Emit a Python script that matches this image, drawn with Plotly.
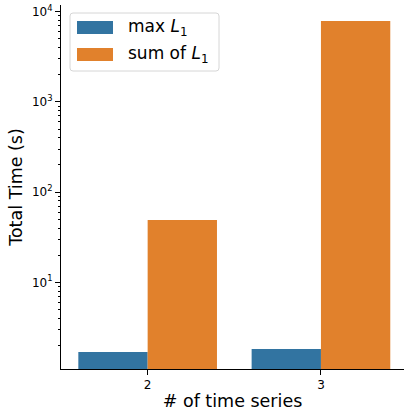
import plotly.graph_objects as go

# Number of time series (x categories)
categories = ["2", "3"]

# Total runtime in seconds for each strategy
series_names = ["max <i>L</i><sub>1</sub>", "sum of <i>L</i><sub>1</sub>"]
max_l1 = [1.69, 1.82]
sum_l1 = [49.0, 7890.0]
series_values = [max_l1, sum_l1]
colors = ["#3274a1", "#e1812c"]

# Log-axis decade labels
y_tickvals = [10, 100, 1000, 10000]
y_ticktext = ["10<sup>1</sup>", "10<sup>2</sup>", "10<sup>3</sup>", "10<sup>4</sup>"]

W, H = 404, 414
L, R, T, B = 61, 0, 5, 45
plot_w = W - L - R
plot_h = H - T - B

fig = go.Figure()
for name, vals, col in zip(series_names, series_values, colors):
    fig.add_trace(go.Bar(
        x=categories, y=vals, name=name, marker_color=col,
        marker_line_width=0, showlegend=False,
    ))

font = "DejaVu Sans, sans-serif"

# Hand-built legend in pixel units converted to paper coordinates
def px(x):
    return (x - L) / plot_w

def py(y):
    return (H - B - y) / plot_h

bx0, bx1, by0, by1, rr = 70, 219, 13, 71, 3
path = (
    f"M {px(bx0 + rr)} {py(by0)} L {px(bx1 - rr)} {py(by0)} "
    f"Q {px(bx1)} {py(by0)} {px(bx1)} {py(by0 + rr)} "
    f"L {px(bx1)} {py(by1 - rr)} Q {px(bx1)} {py(by1)} {px(bx1 - rr)} {py(by1)} "
    f"L {px(bx0 + rr)} {py(by1)} Q {px(bx0)} {py(by1)} {px(bx0)} {py(by1 - rr)} "
    f"L {px(bx0)} {py(by0 + rr)} Q {px(bx0)} {py(by0)} {px(bx0 + rr)} {py(by0)} Z"
)
shapes = [dict(type="path", xref="paper", yref="paper", path=path,
               fillcolor="rgba(255,255,255,0.8)", line=dict(color="#d6d6d6", width=1))]
annotations = []
for i, (name, col) in enumerate(zip(series_names, colors)):
    yc = 27.5 + i * 27
    shapes.append(dict(type="rect", xref="paper", yref="paper",
                       x0=px(77), x1=px(113), y0=py(yc - 6.5), y1=py(yc + 6.5),
                       fillcolor=col, line=dict(width=0)))
    annotations.append(dict(xref="paper", yref="paper", x=px(126), y=py(yc),
                            text=name, showarrow=False, xanchor="left", yanchor="middle",
                            font=dict(family=font, size=17, color="black")))

fig.update_layout(
    width=W, height=H,
    margin=dict(l=L, r=R, t=T, b=B),
    paper_bgcolor="white", plot_bgcolor="white",
    barmode="group", bargap=0.2, bargroupgap=0,
    font=dict(family=font, color="black"),
    shapes=shapes, annotations=annotations,
)
fig.update_xaxes(
    type="category", range=[-0.5, -0.5 + plot_w / 173.3],
    showline=True, linecolor="black", linewidth=1,
    ticks="outside", ticklen=5, tickcolor="black", tickwidth=1,
    tickfont=dict(size=12), showgrid=False, zeroline=False,
    title=dict(text="# of time series", font=dict(size=17.5), standoff=3),
)
fig.update_yaxes(
    type="log", range=[0.039, 4.074],
    tickvals=y_tickvals, ticktext=y_ticktext,
    showline=True, linecolor="black", linewidth=1,
    ticks="outside", ticklen=5, tickcolor="black", tickwidth=1,
    tickfont=dict(size=12), showgrid=False, zeroline=False,
    minor=dict(ticks="outside", ticklen=2.5, tickcolor="black", tickwidth=0.8,
               dtick="D1", showgrid=False),
    title=dict(text="Total Time (s)", font=dict(size=17.5), standoff=4),
)

fig.write_html("out.html")
